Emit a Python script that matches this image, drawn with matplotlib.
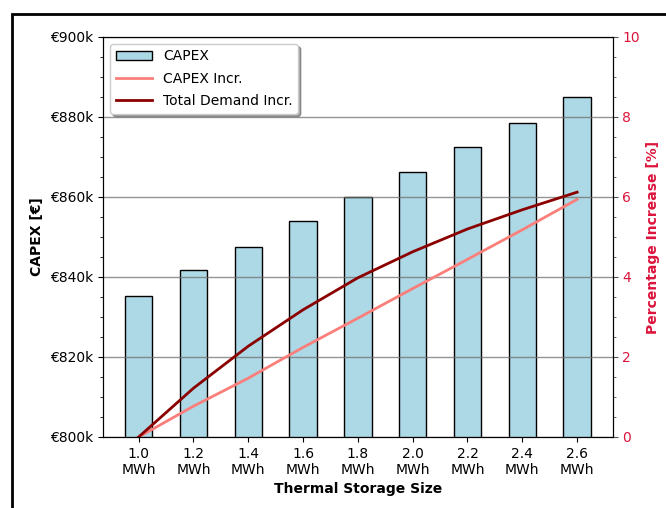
import matplotlib
matplotlib.use("Agg")
import matplotlib.pyplot as plt
from matplotlib.patches import Rectangle
from matplotlib.ticker import FuncFormatter, MultipleLocator

# Storage sizes (MWh) and costs
storage_sizes = [1.0, 1.2, 1.4, 1.6, 1.8, 2.0, 2.2, 2.4, 2.6]
capex_k = [835.3, 841.7, 847.6, 854.0, 860.1, 866.3, 872.4, 878.6, 884.9]
capex_incr_pct = [0.0, 0.77, 1.47, 2.24, 2.97, 3.71, 4.44, 5.18, 5.94]
demand_incr_pct = [0.0, 1.22, 2.27, 3.18, 3.98, 4.63, 5.20, 5.68, 6.12]
tick_labels = [f"{s:.1f}\nMWh" for s in storage_sizes]

fig = plt.figure(figsize=(6.66, 5.08), dpi=100)
ax = fig.add_axes([0.1547, 0.1398, 0.7653, 0.7874])
ax2 = ax.twinx()

pos = list(range(len(storage_sizes)))
ax.bar(pos, [v * 1000 for v in capex_k], width=0.5, color="#add8e6",
       edgecolor="black", linewidth=1.0, label="CAPEX")
ax.set_axisbelow(False)
ax.grid(axis="y", color="#707070", linewidth=1.0, alpha=0.75)

l1, = ax2.plot(pos, capex_incr_pct, color="#fa7f7a", linewidth=2, label="CAPEX Incr.")
l2, = ax2.plot(pos, demand_incr_pct, color="#8b0000", linewidth=2, label="Total Demand Incr.")

ax.set_xlim(-0.65, len(pos) - 1 + 0.65)
ax.set_ylim(800000, 900000)
ax.yaxis.set_major_locator(MultipleLocator(20000))
ax.yaxis.set_minor_locator(MultipleLocator(5000))
ax.yaxis.set_major_formatter(FuncFormatter(lambda v, p: f"€{v/1000:.0f}k"))
ax.set_xticks(pos)
ax.set_xticklabels(tick_labels, fontsize=10)
ax.tick_params(axis="y", labelsize=10)
ax.set_xlabel("Thermal Storage Size", fontweight="bold", fontsize=10)
ax.set_ylabel("CAPEX [€]", fontweight="bold", fontsize=10)

ax2.set_ylim(0, 10)
ax2.yaxis.set_major_locator(MultipleLocator(2))
ax2.yaxis.set_minor_locator(MultipleLocator(0.5))
ax2.tick_params(axis="y", colors="#dc143c", labelsize=10)
ax2.tick_params(axis="y", which="both", color="#555555")
ax2.set_ylabel("Percentage Increase [%]", color="#dc143c", fontweight="bold", fontsize=10)

handles = [ax.patches[0], l1, l2]
ax.legend(handles, ["CAPEX", "CAPEX Incr.", "Total Demand Incr."], loc="upper left",
          fontsize=10, shadow=True, framealpha=1.0, handlelength=2.6,
          labelspacing=0.6)
ax.set_zorder(ax2.get_zorder() - 1)
ax.patch.set_visible(False)
ax2.patch.set_visible(False)

# figure border
fig.patches.append(Rectangle((12 / 666, -0.05), 1.2, 1.05 - 14 / 508,
                             transform=fig.transFigure, fill=False,
                             edgecolor="black", linewidth=2))

fig.savefig("out.png", dpi=100)
